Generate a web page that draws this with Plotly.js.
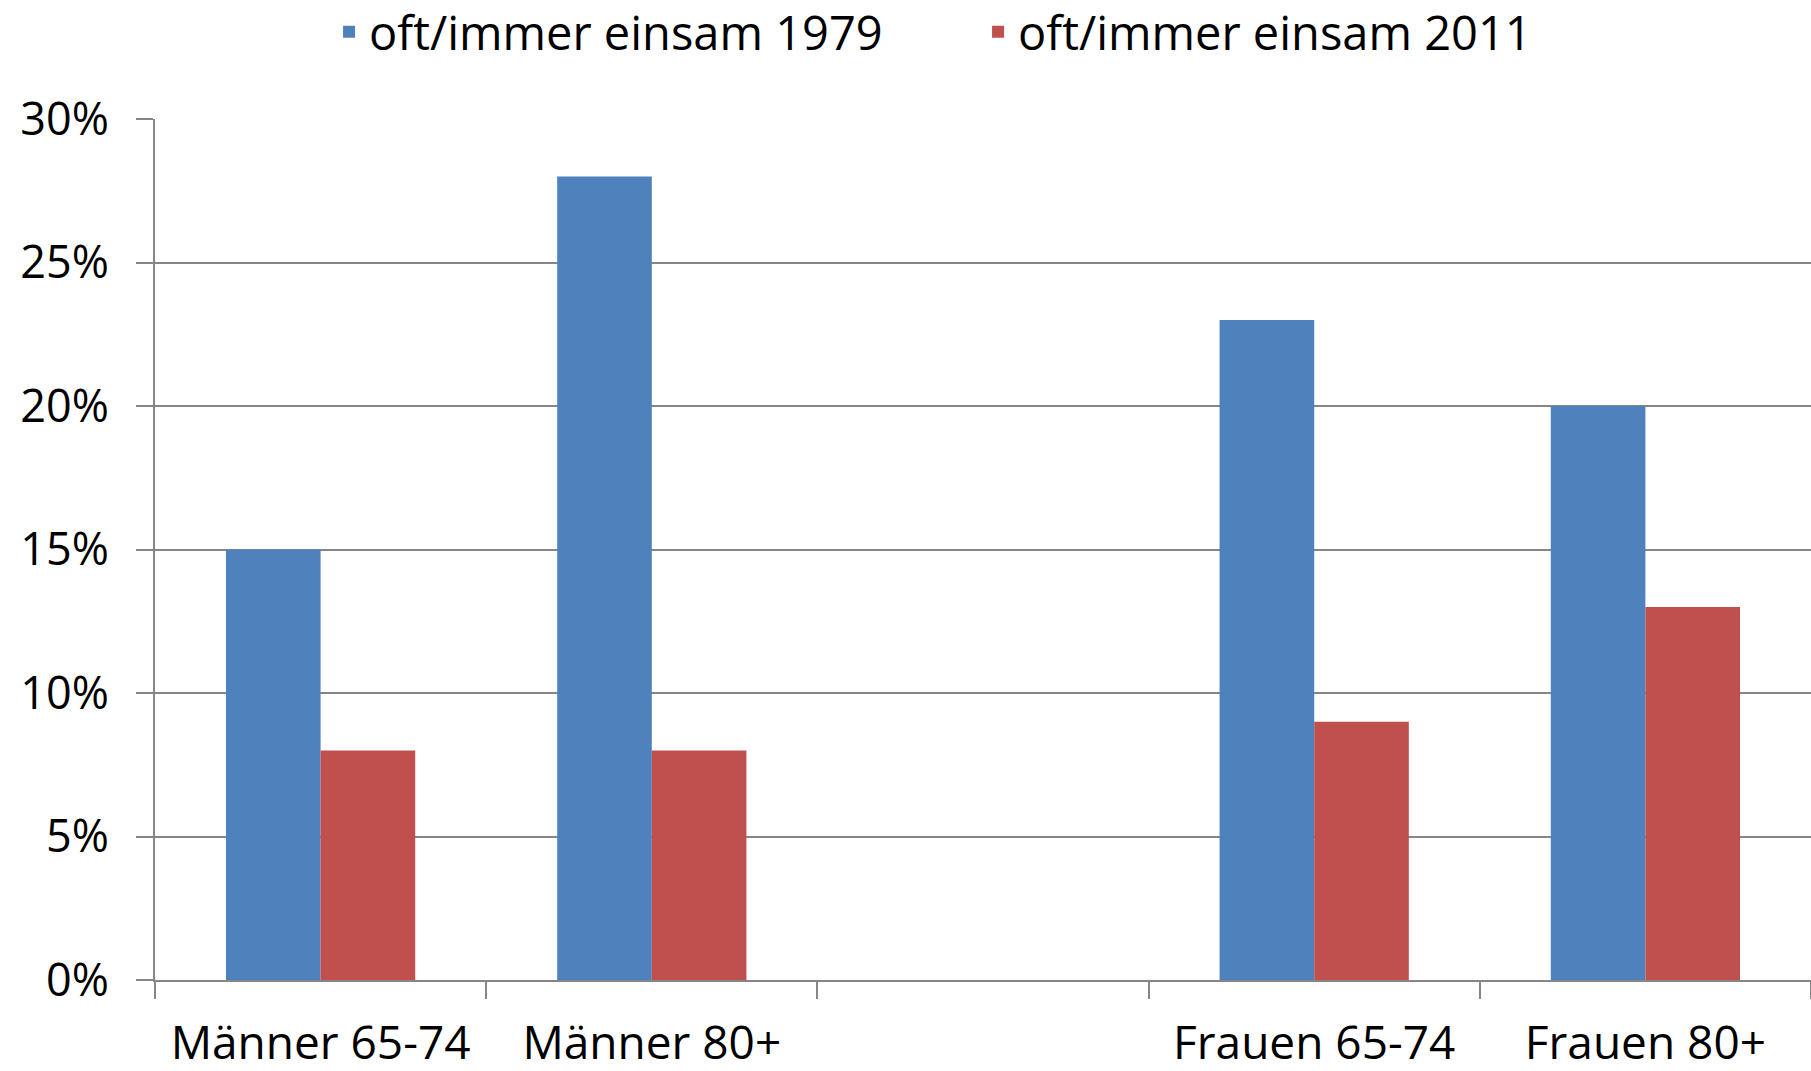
<!DOCTYPE html>
<html>
<head>
<meta charset="utf-8">
<script src="https://cdn.plot.ly/plotly-3.0.1.min.js"></script>
<style>html,body{margin:0;padding:0;background:#fff;}#chart{width:1811px;height:1071px;}</style>
</head>
<body>
<div id="chart"></div>
<script>
const categories = ["Männer 65-74", "Männer 80+", " ", "Frauen 65-74", "Frauen 80+"];
const seriesNames = ["oft/immer einsam 1979", "oft/immer einsam 2011"];
const values1979 = [15, 28, null, 23, 20];
const values2011 = [8, 8, null, 9, 13];
const yTickValues = [0, 5, 10, 15, 20, 25, 30];
const yTickLabels = ["0%", "5%", "10%", "15%", "20%", "25%", "30%"];

const FONT = "'Open Sans', 'Noto Sans', sans-serif";
const GREY = "#868686";

const data = [
  {type: "bar", name: seriesNames[0], x: categories, y: values1979,
   marker: {color: "#4F81BD", line: {width: 0}}},
  {type: "bar", name: seriesNames[1], x: categories, y: values2011,
   marker: {color: "#C0504D", line: {width: 0}}}
];

const layout = {
  width: 1811, height: 1071,
  margin: {l: 155, r: 0, t: 119, b: 91, pad: 0},
  paper_bgcolor: "#fff", plot_bgcolor: "#fff",
  font: {family: FONT, size: 45, color: "#000"},
  barmode: "group", bargap: 0.4286, bargroupgap: 0,
  showlegend: true,
  legend: {orientation: "h", xref: "container", yref: "container",
           x: 0.1817, xanchor: "left", y: 0.970, yanchor: "middle",
           font: {family: FONT, size: 47, color: "#000"},
           entrywidth: 604, traceorder: "normal", itemclick: false},
  xaxis: {type: "category", categoryorder: "array", categoryarray: categories,
          showline: true, linecolor: GREY, linewidth: 2,
          ticks: "outside", tickson: "boundaries", ticklen: 17, tickwidth: 2, tickcolor: GREY,
          showgrid: false, ticklabelstandoff: 22,
          tickfont: {family: FONT, size: 46, color: "#000"}},
  yaxis: {range: [0, 30], tickvals: yTickValues, ticktext: yTickLabels,
          showline: true, linecolor: GREY, linewidth: 2,
          ticks: "outside", ticklen: 17, tickwidth: 2, tickcolor: GREY,
          showgrid: true, gridcolor: GREY, gridwidth: 2, zeroline: false,
          ticklabelstandoff: 18,
          tickfont: {family: FONT, size: 45, color: "#000"}}
};

Plotly.newPlot("chart", data, layout, {staticPlot: true, displayModeBar: false});
</script>
</body>
</html>
